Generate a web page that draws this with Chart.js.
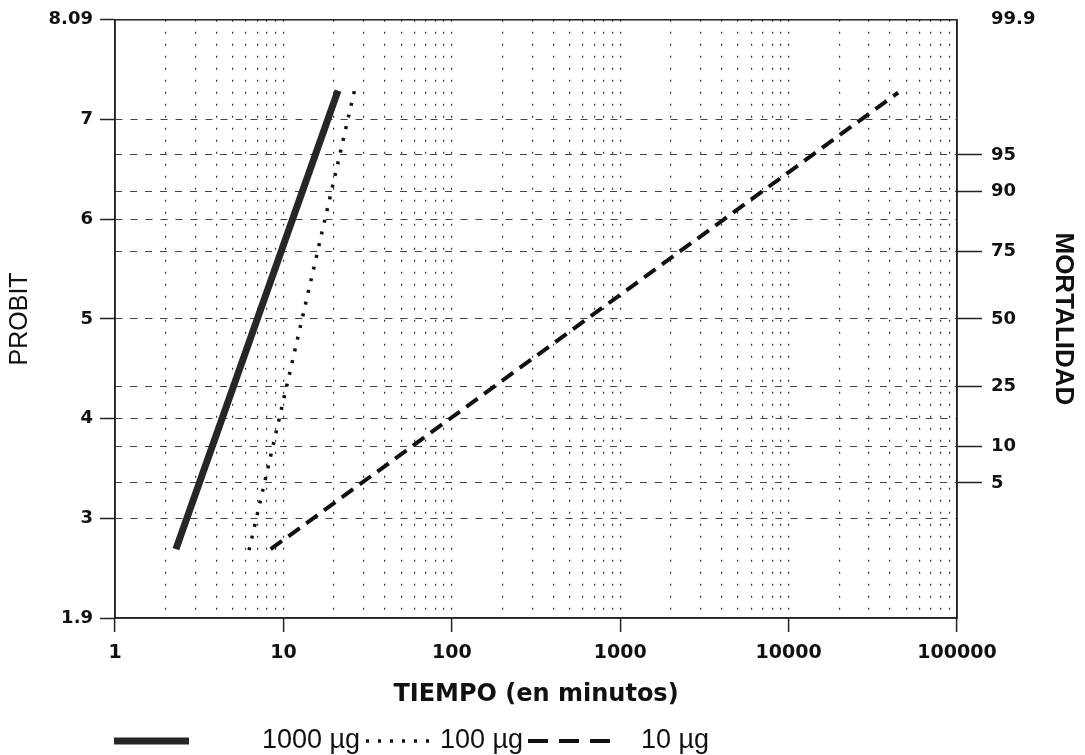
<!DOCTYPE html>
<html><head><meta charset="utf-8">
<script src="https://cdn.jsdelivr.net/npm/chart.js@4/dist/chart.umd.min.js"></script>
<style>html,body{margin:0;padding:0;background:#fff;}canvas{display:block;}</style>
</head><body>
<canvas id="c" width="1085" height="755"></canvas>
<script>
// ---- data ----
const xMajorTicks = [1, 10, 100, 1000, 10000, 100000];
const xMinorFactors = [2, 3, 4, 5, 6, 7, 8, 9];
const probitTicks = [2, 3, 4, 5, 6, 7, 8];
const probitTickLabels = ['1.9', '3', '4', '5', '6', '7', '8.09'];
const mortalityLabels = ['5', '10', '25', '50', '75', '90', '95', '99.9'];
const mortalityProbits = [3.355, 3.718, 4.326, 5.0, 5.674, 6.282, 6.645, 8.09];
const seriesLabels = ['1000 µg', '100 µg', '10 µg'];
const time1000 = [2.3, 21.1];
const probit1000 = [2.69, 7.29];
const time100 = [6.25, 26.6];
const probit100 = [2.68, 7.31];
const time10 = [8.4, 44700];
const probit10 = [2.69, 7.27];

const Y_MIN = 2, Y_MAX = 8;
const xTickValues = [];
xMajorTicks.forEach((m, i) => {
  xTickValues.push(m);
  if (i < xMajorTicks.length - 1) xMinorFactors.forEach(f => xTickValues.push(m * f));
});
const mortalityTickValues = mortalityProbits.map(p => Math.min(p, Y_MAX));
const pts = (t, p) => t.map((v, i) => ({x: v, y: p[i]}));

const framePlugin = {
  id: 'frame',
  beforeDatasetsDraw(chart) {
    const a = chart.chartArea, ctx = chart.ctx;
    ctx.save();
    ctx.strokeStyle = '#222';
    ctx.lineWidth = 1.5;
    ctx.setLineDash([]);
    ctx.strokeRect(a.left, a.top, a.right - a.left, a.bottom - a.top);
    ctx.restore();
  }
};

const legendPlugin = {
  id: 'bottomLegend',
  afterDraw(chart) {
    const ctx = chart.ctx;
    const slots = [{x0: 114, x1: 189, tx: 262}, {x0: 366, x1: 429, tx: 440}, {x0: 528, x1: 620, tx: 641}];
    const y = 741;
    chart.data.datasets.forEach((ds, i) => {
      const s = slots[i];
      ctx.save();
      ctx.strokeStyle = ds.borderColor;
      ctx.lineWidth = ds.borderWidth;
      ctx.setLineDash(ds.legendDash || ds.borderDash || []);
      ctx.beginPath();
      ctx.moveTo(s.x0, y);
      ctx.lineTo(s.x1, y);
      ctx.stroke();
      ctx.setLineDash([]);
      ctx.fillStyle = '#111';
      ctx.font = '27px "Liberation Sans", Arial, sans-serif';
      ctx.textBaseline = 'middle';
      ctx.textAlign = 'left';
      ctx.fillText(ds.label, s.tx, y);
      ctx.restore();
    });
  }
};

Chart.defaults.font.family = '"DejaVu Sans", sans-serif';
Chart.defaults.color = '#111';

new Chart(document.getElementById('c'), {
  type: 'line',
  data: {
    datasets: [
      {label: seriesLabels[0], data: pts(time1000, probit1000), borderColor: '#262626', borderWidth: 7,
       borderDash: [], pointRadius: 0, fill: false, tension: 0, yAxisID: 'y'},
      {label: seriesLabels[1], data: pts(time100, probit100), borderColor: '#111', borderWidth: 3.5,
       borderDash: [3, 9], pointRadius: 0, fill: false, tension: 0, yAxisID: 'y'},
      {label: seriesLabels[2], data: pts(time10, probit10), borderColor: '#111', borderWidth: 4,
       borderDash: [14, 8], legendDash: [20, 11], pointRadius: 0, fill: false, tension: 0, yAxisID: 'y'}
    ]
  },
  options: {
    responsive: false,
    animation: false,
    devicePixelRatio: 1,
    layout: {padding: {top: 19, left: 0, right: 0, bottom: 0}},
    plugins: {legend: {display: false}, tooltip: {enabled: false}},
    scales: {
      x: {
        type: 'logarithmic', min: 1, max: 100000, position: 'bottom',
        afterBuildTicks: s => { s.ticks = xTickValues.map(v => ({value: v, major: xMajorTicks.includes(v)})); },
        afterFit: s => { s.height = 137; },
        ticks: {
          autoSkip: false, maxRotation: 0, minRotation: 0, padding: 10,
          font: {size: 19, weight: 'bold'},
          callback: v => xMajorTicks.includes(v) ? String(v) : ''
        },
        grid: {
          color: c => (c.tick && (c.tick.value === 1 || c.tick.value === 100000)) ? 'rgba(0,0,0,0)' : '#333',
          lineWidth: 1.2,
          tickLength: 14,
          tickWidth: 1.5,
          tickBorderDash: [],
          tickColor: c => (c.tick && xMajorTicks.includes(c.tick.value)) ? '#222' : 'rgba(0,0,0,0)'
        },
        border: {display: true, color: '#222', width: 1.5, dash: [2, 10]},
        title: {display: true, text: 'TIEMPO (en minutos)', font: {size: 24, weight: 'bold'}, padding: {top: 0, bottom: 46}}
      },
      y: {
        type: 'linear', min: Y_MIN, max: Y_MAX, position: 'left',
        afterBuildTicks: s => { s.ticks = probitTicks.map(v => ({value: v})); },
        afterFit: s => { s.width = 115; },
        ticks: {
          padding: 7, font: {size: 18, weight: 'bold'},
          callback: (v, i) => probitTickLabels[probitTicks.indexOf(v)]
        },
        grid: {
          color: c => (c.tick && (c.tick.value === Y_MIN || c.tick.value === Y_MAX)) ? 'rgba(0,0,0,0)' : '#444',
          lineWidth: 1,
          tickLength: 15, tickWidth: 1.5, tickBorderDash: [], tickColor: '#222'
        },
        border: {display: true, color: '#222', width: 1.5, dash: [7, 8]},
        title: {display: true, text: 'PROBIT', font: {family: '"Liberation Sans", Arial, sans-serif', size: 25, weight: 'normal'}, padding: {top: 5, bottom: 0}}
      },
      y2: {
        type: 'linear', min: Y_MIN, max: Y_MAX, position: 'right', display: true,
        afterBuildTicks: s => { s.ticks = mortalityTickValues.map(v => ({value: v})); },
        afterFit: s => { s.width = 128; },
        ticks: {
          padding: 9, font: {size: 18, weight: 'bold'},
          callback: (v, i) => mortalityLabels[i]
        },
        grid: {
          color: c => (c.tick && c.tick.value >= Y_MAX) ? 'rgba(0,0,0,0)' : '#444',
          lineWidth: 1,
          tickLength: 25, tickWidth: 1.5, tickBorderDash: [],
          tickColor: c => (c.tick && c.tick.value >= Y_MAX) ? 'rgba(0,0,0,0)' : '#222'
        },
        border: {display: true, color: '#222', width: 1.5, dash: [7, 8]},
        title: {display: true, text: 'MORTALIDAD', font: {family: '"Liberation Sans", Arial, sans-serif', size: 26, weight: 'bold'}, padding: {top: 6, bottom: 0}}
      }
    }
  },
  plugins: [framePlugin, legendPlugin]
});
</script>
</body></html>
